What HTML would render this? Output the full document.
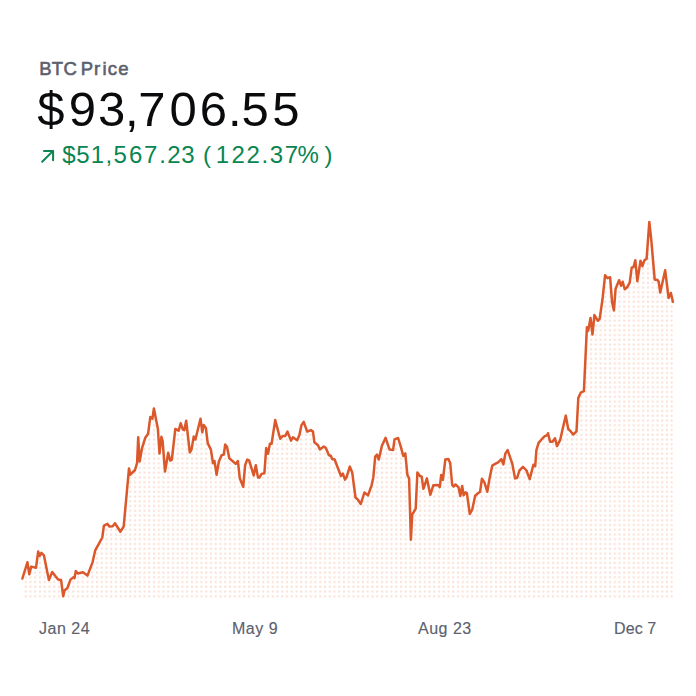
<!DOCTYPE html>
<html><head><meta charset="utf-8">
<style>
html,body{margin:0;padding:0;background:#fff;width:696px;height:696px;overflow:hidden;position:relative}
.t{position:absolute;white-space:nowrap;font-family:"Liberation Sans",sans-serif;line-height:1}
#lbl span{position:absolute;top:59.9px;font-family:"Liberation Sans",sans-serif;font-size:18.5px;font-weight:normal;-webkit-text-stroke:0.6px #5b616e;line-height:1;color:#5b616e;white-space:nowrap}
#price span{position:absolute;top:85px;font-family:"Liberation Sans",sans-serif;font-size:49px;line-height:1;color:#0a0b0d;white-space:nowrap}
#chg span{position:absolute;top:143px;font-family:"Liberation Sans",sans-serif;font-size:24px;line-height:1;color:#098551;white-space:nowrap}
.ax{top:621px;font-size:16px;color:#5b616e;letter-spacing:0.5px;-webkit-text-stroke:0.15px #5b616e}
svg{position:absolute;left:0;top:0}
</style></head><body>
<div id="lbl"><span style="left:39.20px">B</span><span style="left:51.70px">T</span><span style="left:63.50px">C</span><span style="left:80.70px">P</span><span style="left:94.10px">r</span><span style="left:102.60px">i</span><span style="left:107.70px">c</span><span style="left:118.15px">e</span></div>
<div id="price"><span style="left:37.30px">$</span><span style="left:68.75px">9</span><span style="left:97.95px">3</span><span style="left:125.05px">,</span><span style="left:138.20px">7</span><span style="left:169.40px">0</span><span style="left:199.80px">6</span><span style="left:227.90px">.</span><span style="left:241.55px">5</span><span style="left:272.20px">5</span></div>
<svg width="696" height="696" viewBox="0 0 696 696">
<defs>
<pattern id="dots" patternUnits="userSpaceOnUse" x="0" y="0" width="4.75" height="4.75">
<rect x="0.95" y="1.45" width="2.1" height="2.1" fill="#fae0d5"/>
</pattern>
</defs>
<path d="M42.2,161.8 L53.1,150.9 M44.0,150.9 L53.1,150.9 L53.1,160.2" fill="none" stroke="#098551" stroke-width="2" stroke-linecap="round" stroke-linejoin="round"/>
<path d="M22.4,578.5 L27.4,562.3 L29.3,574.2 L31.2,566.6 L36.0,567.7 L38.2,551.6 L39.8,555.9 L41.4,552.8 L43.9,555.3 L48.9,580.1 L52.2,572.0 L58.1,579.6 L61.1,580.1 L63.2,596.3 L64.6,590.3 L67.3,588.2 L70.5,579.6 L73.2,577.4 L74.5,578.2 L75.8,571.1 L77.8,573.5 L82.9,572.2 L87.5,575.6 L92.6,562.1 L95.2,550.4 L102.3,537.5 L103.9,525.6 L107.5,523.9 L109.4,526.5 L112.7,526.3 L115.0,523.3 L120.4,531.7 L123.7,526.5 L129.0,468.4 L130.3,474.7 L135.0,470.0 L137.1,462.9 L138.2,437.3 L139.7,461.4 L142.1,447.9 L145.3,437.7 L148.1,433.7 L150.3,417.1 L152.4,418.7 L153.9,408.4 L157.9,429.0 L159.5,453.5 L161.4,436.8 L162.6,440.8 L165.0,471.6 L168.2,452.7 L170.2,460.6 L171.8,459.8 L175.3,429.0 L178.7,430.6 L180.7,423.3 L182.9,429.5 L184.3,430.2 L186.2,420.8 L189.8,452.4 L191.5,449.6 L193.7,436.6 L195.4,439.5 L200.5,418.7 L202.3,432.3 L203.7,425.1 L205.9,428.0 L207.7,443.1 L210.9,449.6 L213.0,463.2 L214.5,461.1 L216.6,474.7 L218.8,461.8 L221.6,455.3 L223.8,454.6 L225.2,444.5 L227.0,446.7 L229.3,458.2 L235.7,463.9 L237.9,461.0 L239.8,478.3 L243.2,486.9 L245.1,465.3 L247.2,459.6 L249.1,460.3 L253.7,475.4 L255.8,465.3 L258.0,477.6 L259.4,477.6 L261.6,473.9 L264.4,473.2 L266.2,448.1 L268.0,453.8 L269.9,443.8 L271.6,443.8 L275.2,420.1 L280.2,438.7 L282.8,435.9 L285.3,435.9 L287.5,431.6 L291.0,440.6 L292.9,437.3 L297.2,440.2 L299.4,435.1 L301.5,425.1 L303.7,421.9 L307.2,431.6 L310.8,430.1 L313.0,431.6 L314.4,442.3 L318.0,445.2 L319.9,449.5 L323.8,446.6 L325.9,448.1 L328.8,455.0 L330.9,456.0 L332.4,459.3 L334.5,459.3 L341.0,476.0 L342.8,473.5 L345.0,479.6 L346.5,477.4 L349.8,466.6 L352.2,472.4 L355.5,497.5 L357.9,499.7 L360.8,504.0 L364.4,492.5 L368.0,495.4 L371.6,485.3 L373.3,477.4 L375.2,456.6 L377.0,454.7 L378.8,459.5 L381.9,445.8 L385.6,437.9 L389.5,449.4 L393.1,450.1 L394.5,439.4 L398.1,438.0 L401.0,447.4 L403.3,456.0 L405.3,453.4 L407.4,475.0 L409.1,478.4 L410.9,539.7 L412.2,514.7 L415.7,508.6 L417.4,472.4 L420.0,475.9 L421.7,476.7 L423.4,488.8 L426.9,478.4 L430.3,494.8 L433.3,485.3 L438.1,485.0 L439.8,487.1 L441.2,475.0 L442.9,479.8 L445.3,459.5 L448.4,459.1 L450.2,463.0 L452.2,485.0 L453.5,486.5 L455.5,484.5 L458.6,487.4 L460.3,496.0 L462.2,486.0 L463.6,495.3 L465.5,492.4 L466.9,493.2 L469.8,514.0 L472.2,509.7 L475.1,496.0 L478.0,493.2 L480.1,491.7 L481.9,478.8 L484.4,482.4 L487.3,491.7 L489.5,478.8 L492.3,465.6 L495.6,463.7 L498.1,462.3 L501.4,459.1 L503.4,464.4 L505.3,453.7 L507.6,450.1 L512.2,463.3 L515.1,478.4 L517.2,477.7 L519.4,470.5 L523.0,466.9 L526.5,470.5 L529.7,479.1 L533.4,464.8 L535.2,466.2 L536.4,450.0 L538.6,442.9 L541.5,439.5 L544.4,436.3 L547.0,435.3 L548.0,433.2 L550.1,441.8 L552.4,441.8 L555.0,438.2 L557.0,446.1 L560.3,439.6 L562.5,429.6 L565.8,415.6 L568.2,428.9 L570.4,431.0 L573.2,434.6 L576.5,431.4 L578.3,398.0 L580.7,392.7 L583.9,391.2 L586.9,327.3 L588.2,330.9 L590.5,318.0 L592.5,334.5 L594.4,315.1 L598.0,320.8 L599.7,318.7 L602.5,299.3 L605.1,275.2 L607.6,278.2 L610.1,277.2 L612.1,302.3 L613.9,310.4 L615.6,288.7 L619.1,280.2 L621.0,285.7 L622.7,281.7 L624.7,289.2 L627.2,287.2 L629.7,282.7 L631.7,267.6 L633.6,266.8 L635.3,260.2 L637.3,281.2 L640.5,260.7 L642.4,266.2 L644.4,260.3 L646.6,258.9 L649.3,222.0 L651.3,240.2 L654.7,279.7 L657.3,279.7 L658.7,281.8 L660.2,292.6 L665.2,270.3 L668.6,298.0 L670.9,293.0 L672.9,301.8 L672.9,598.0 L22.4,598.0 Z" fill="url(#dots)"/>
<path d="M22.4,578.5 L27.4,562.3 L29.3,574.2 L31.2,566.6 L36.0,567.7 L38.2,551.6 L39.8,555.9 L41.4,552.8 L43.9,555.3 L48.9,580.1 L52.2,572.0 L58.1,579.6 L61.1,580.1 L63.2,596.3 L64.6,590.3 L67.3,588.2 L70.5,579.6 L73.2,577.4 L74.5,578.2 L75.8,571.1 L77.8,573.5 L82.9,572.2 L87.5,575.6 L92.6,562.1 L95.2,550.4 L102.3,537.5 L103.9,525.6 L107.5,523.9 L109.4,526.5 L112.7,526.3 L115.0,523.3 L120.4,531.7 L123.7,526.5 L129.0,468.4 L130.3,474.7 L135.0,470.0 L137.1,462.9 L138.2,437.3 L139.7,461.4 L142.1,447.9 L145.3,437.7 L148.1,433.7 L150.3,417.1 L152.4,418.7 L153.9,408.4 L157.9,429.0 L159.5,453.5 L161.4,436.8 L162.6,440.8 L165.0,471.6 L168.2,452.7 L170.2,460.6 L171.8,459.8 L175.3,429.0 L178.7,430.6 L180.7,423.3 L182.9,429.5 L184.3,430.2 L186.2,420.8 L189.8,452.4 L191.5,449.6 L193.7,436.6 L195.4,439.5 L200.5,418.7 L202.3,432.3 L203.7,425.1 L205.9,428.0 L207.7,443.1 L210.9,449.6 L213.0,463.2 L214.5,461.1 L216.6,474.7 L218.8,461.8 L221.6,455.3 L223.8,454.6 L225.2,444.5 L227.0,446.7 L229.3,458.2 L235.7,463.9 L237.9,461.0 L239.8,478.3 L243.2,486.9 L245.1,465.3 L247.2,459.6 L249.1,460.3 L253.7,475.4 L255.8,465.3 L258.0,477.6 L259.4,477.6 L261.6,473.9 L264.4,473.2 L266.2,448.1 L268.0,453.8 L269.9,443.8 L271.6,443.8 L275.2,420.1 L280.2,438.7 L282.8,435.9 L285.3,435.9 L287.5,431.6 L291.0,440.6 L292.9,437.3 L297.2,440.2 L299.4,435.1 L301.5,425.1 L303.7,421.9 L307.2,431.6 L310.8,430.1 L313.0,431.6 L314.4,442.3 L318.0,445.2 L319.9,449.5 L323.8,446.6 L325.9,448.1 L328.8,455.0 L330.9,456.0 L332.4,459.3 L334.5,459.3 L341.0,476.0 L342.8,473.5 L345.0,479.6 L346.5,477.4 L349.8,466.6 L352.2,472.4 L355.5,497.5 L357.9,499.7 L360.8,504.0 L364.4,492.5 L368.0,495.4 L371.6,485.3 L373.3,477.4 L375.2,456.6 L377.0,454.7 L378.8,459.5 L381.9,445.8 L385.6,437.9 L389.5,449.4 L393.1,450.1 L394.5,439.4 L398.1,438.0 L401.0,447.4 L403.3,456.0 L405.3,453.4 L407.4,475.0 L409.1,478.4 L410.9,539.7 L412.2,514.7 L415.7,508.6 L417.4,472.4 L420.0,475.9 L421.7,476.7 L423.4,488.8 L426.9,478.4 L430.3,494.8 L433.3,485.3 L438.1,485.0 L439.8,487.1 L441.2,475.0 L442.9,479.8 L445.3,459.5 L448.4,459.1 L450.2,463.0 L452.2,485.0 L453.5,486.5 L455.5,484.5 L458.6,487.4 L460.3,496.0 L462.2,486.0 L463.6,495.3 L465.5,492.4 L466.9,493.2 L469.8,514.0 L472.2,509.7 L475.1,496.0 L478.0,493.2 L480.1,491.7 L481.9,478.8 L484.4,482.4 L487.3,491.7 L489.5,478.8 L492.3,465.6 L495.6,463.7 L498.1,462.3 L501.4,459.1 L503.4,464.4 L505.3,453.7 L507.6,450.1 L512.2,463.3 L515.1,478.4 L517.2,477.7 L519.4,470.5 L523.0,466.9 L526.5,470.5 L529.7,479.1 L533.4,464.8 L535.2,466.2 L536.4,450.0 L538.6,442.9 L541.5,439.5 L544.4,436.3 L547.0,435.3 L548.0,433.2 L550.1,441.8 L552.4,441.8 L555.0,438.2 L557.0,446.1 L560.3,439.6 L562.5,429.6 L565.8,415.6 L568.2,428.9 L570.4,431.0 L573.2,434.6 L576.5,431.4 L578.3,398.0 L580.7,392.7 L583.9,391.2 L586.9,327.3 L588.2,330.9 L590.5,318.0 L592.5,334.5 L594.4,315.1 L598.0,320.8 L599.7,318.7 L602.5,299.3 L605.1,275.2 L607.6,278.2 L610.1,277.2 L612.1,302.3 L613.9,310.4 L615.6,288.7 L619.1,280.2 L621.0,285.7 L622.7,281.7 L624.7,289.2 L627.2,287.2 L629.7,282.7 L631.7,267.6 L633.6,266.8 L635.3,260.2 L637.3,281.2 L640.5,260.7 L642.4,266.2 L644.4,260.3 L646.6,258.9 L649.3,222.0 L651.3,240.2 L654.7,279.7 L657.3,279.7 L658.7,281.8 L660.2,292.6 L665.2,270.3 L668.6,298.0 L670.9,293.0 L672.9,301.8" fill="none" stroke="#db582b" stroke-width="2.5" stroke-linejoin="round" stroke-linecap="round"/>
</svg>
<div id="chg"><span style="left:62.35px">$</span><span style="left:76.15px">5</span><span style="left:90.75px">1</span><span style="left:105.60px">,</span><span style="left:113.40px">5</span><span style="left:128.95px">6</span><span style="left:144.05px">7</span><span style="left:159.15px">.</span><span style="left:167.20px">2</span><span style="left:181.30px">3</span><span style="left:203.10px">(</span><span style="left:215.85px">1</span><span style="left:231.45px">2</span><span style="left:246.55px">2</span><span style="left:261.40px">.</span><span style="left:269.70px">3</span><span style="left:284.80px">7</span><span style="left:297.55px">%</span><span style="left:324.45px">)</span></div>
<div class="t ax" style="left:39px">Jan 24</div>
<div class="t ax" style="left:232px">May 9</div>
<div class="t ax" style="left:418px">Aug 23</div>
<div class="t ax" style="left:614px;letter-spacing:0.1px">Dec 7</div>
</body></html>
